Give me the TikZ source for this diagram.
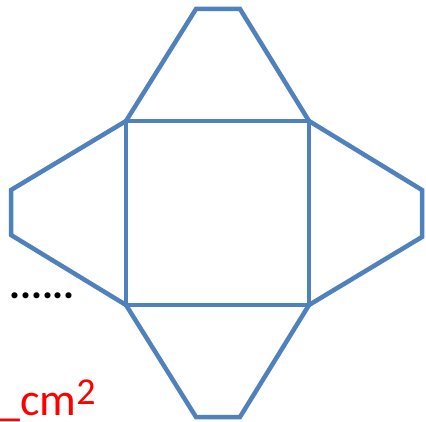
\documentclass[tikz,border=0pt]{standalone}
\usepackage{fontspec}
\setmainfont{Carlito}
\definecolor{netblue}{RGB}{79,129,189}
\tikzset{
    netline/.style={netblue, line width=4.5pt, line join=miter},
    netlabel/.style={anchor=base west, inner sep=0pt, font=\fontsize{46}{50}\selectfont}
}
\begin{document}
\begin{tikzpicture}[x=1pt, y=-1pt]
    \useasboundingbox (0,0) rectangle (426,422);

    % 正方形底面
    \coordinate (tl) at (126,121);
    \coordinate (tr) at (309,121);
    \coordinate (br) at (309,305);
    \coordinate (bl) at (126,305);
    \draw[netline] (tl) -- (tr) -- (br) -- (bl) -- cycle;

    % 四个侧面
    \draw[netline] (tl) -- (196,9) -- (240,9) -- (tr);
    \draw[netline] (tr) -- (422,190) -- (422,237) -- (br);
    \draw[netline] (br) -- (240,417) -- (196,417) -- (bl);
    \draw[netline] (bl) -- (11,235) -- (11,190) -- (tl);

    % 文字
    \node[netlabel, font=\fontsize{41}{50}\selectfont\bfseries] (dots) at (9,299) {......};
    \node[netlabel, red] (unit) at (-3,415)
        {\_cm{\fontsize{38}{40}\selectfont\raisebox{11pt}{2}}};
\end{tikzpicture}
\end{document}
